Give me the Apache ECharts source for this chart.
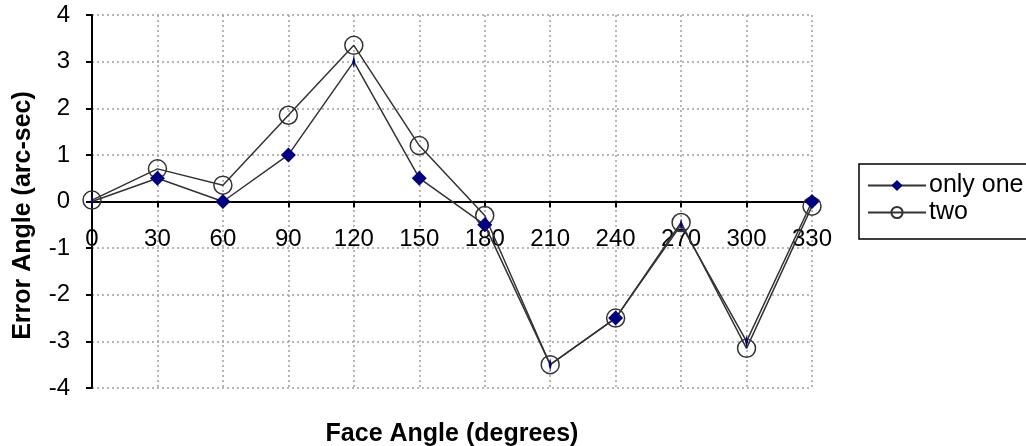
<!DOCTYPE html>
<html>
<head>
<meta charset="utf-8">
<script src="https://cdn.jsdelivr.net/npm/echarts@6/dist/echarts.min.js"></script>
<style>
  html, body { margin: 0; padding: 0; background: #fff; }
  #chart { width: 1026px; height: 446px; }
</style>
</head>
<body>
<div id="chart"></div>
<script>
// face angles (degrees)
var faceAngles = ['0', '30', '60', '90', '120', '150', '180', '210', '240', '270', '300', '330'];
// error angle, arc-sec
var onlyOne = [0, 0.5, 0, 1, 3, 0.5, -0.5, -3.5, -2.5, -0.5, -3, 0];
var two = [0.03, 0.7, 0.35, 1.85, 3.35, 1.2, -0.3, -3.5, -2.5, -0.45, -3.15, -0.1];

var font = '"Liberation Sans", Arial, sans-serif';
// diamonds that show up as thin slivers in the original
var thinPts = [0, 4, 7, 9, 10];

var chart = echarts.init(document.getElementById('chart'));
var option = {
  backgroundColor: '#fff',
  animation: false,
  textStyle: { fontFamily: font },
  grid: { left: 92, right: 214, top: 15, bottom: 58, containLabel: false, outerBoundsMode: 'none' },
  legend: {
    orient: 'vertical',
    left: 859,
    top: 164,
    padding: [8, 20, 13, 8],
    itemWidth: 58,
    itemHeight: 14,
    itemGap: 0,
    backgroundColor: '#fff',
    borderColor: '#000',
    borderWidth: 1.5,
    borderRadius: 0,
    textStyle: { fontSize: 25, lineHeight: 27, color: '#000', fontFamily: font, padding: [0, 0, 0, -2] },
    data: ['only one', 'two']
  },
  xAxis: {
    type: 'category',
    data: faceAngles,
    boundaryGap: false,
    position: 'bottom',
    offset: -186.5,
    name: 'Face Angle (degrees)',
    nameLocation: 'middle',
    nameGap: 220,
    nameTextStyle: { fontSize: 25, fontWeight: 'bold', color: '#000', fontFamily: font },
    axisLine: { onZero: false, lineStyle: { color: '#000', width: 2 } },
    axisTick: { show: true, length: 6, lineStyle: { color: '#000', width: 2 } },
    axisLabel: { margin: 26, fontSize: 24, color: '#000', fontFamily: font },
    splitLine: { show: true, lineStyle: { color: '#a0a0a0', type: [2, 3], width: 1.5 } }
  },
  yAxis: {
    type: 'value',
    min: -4,
    max: 4,
    interval: 1,
    name: 'Error Angle (arc-sec)',
    nameLocation: 'middle',
    nameGap: 56,
    nameTextStyle: { fontSize: 25, fontWeight: 'bold', color: '#000', fontFamily: font, padding: [0, 28, 0, 0] },
    axisLine: { show: true, lineStyle: { color: '#000', width: 2 } },
    axisTick: { show: true, length: 6, lineStyle: { color: '#000', width: 2 } },
    axisLabel: { margin: 22, fontSize: 24, color: '#000', fontFamily: font },
    splitLine: { show: true, lineStyle: { color: '#a0a0a0', type: [2, 3], width: 1.5 } }
  },
  series: [
    {
      name: 'only one',
      type: 'line',
      data: onlyOne,
      symbol: 'diamond',
      symbolSize: function (val, params) {
        if (params && thinPts.indexOf(params.dataIndex) >= 0) return [3, 13];
        return 15;
      },
      lineStyle: { color: '#333', width: 1.5 },
      itemStyle: { color: '#000080' },
      z: 3
    },
    {
      name: 'two',
      type: 'line',
      data: two,
      symbol: 'circle',
      symbolSize: 18,
      lineStyle: { color: '#333', width: 1.5 },
      itemStyle: { color: 'rgba(0,0,0,0)', borderColor: '#333', borderWidth: 1.5 },
      z: 2
    }
  ]
};
chart.setOption(option);
</script>
</body>
</html>
